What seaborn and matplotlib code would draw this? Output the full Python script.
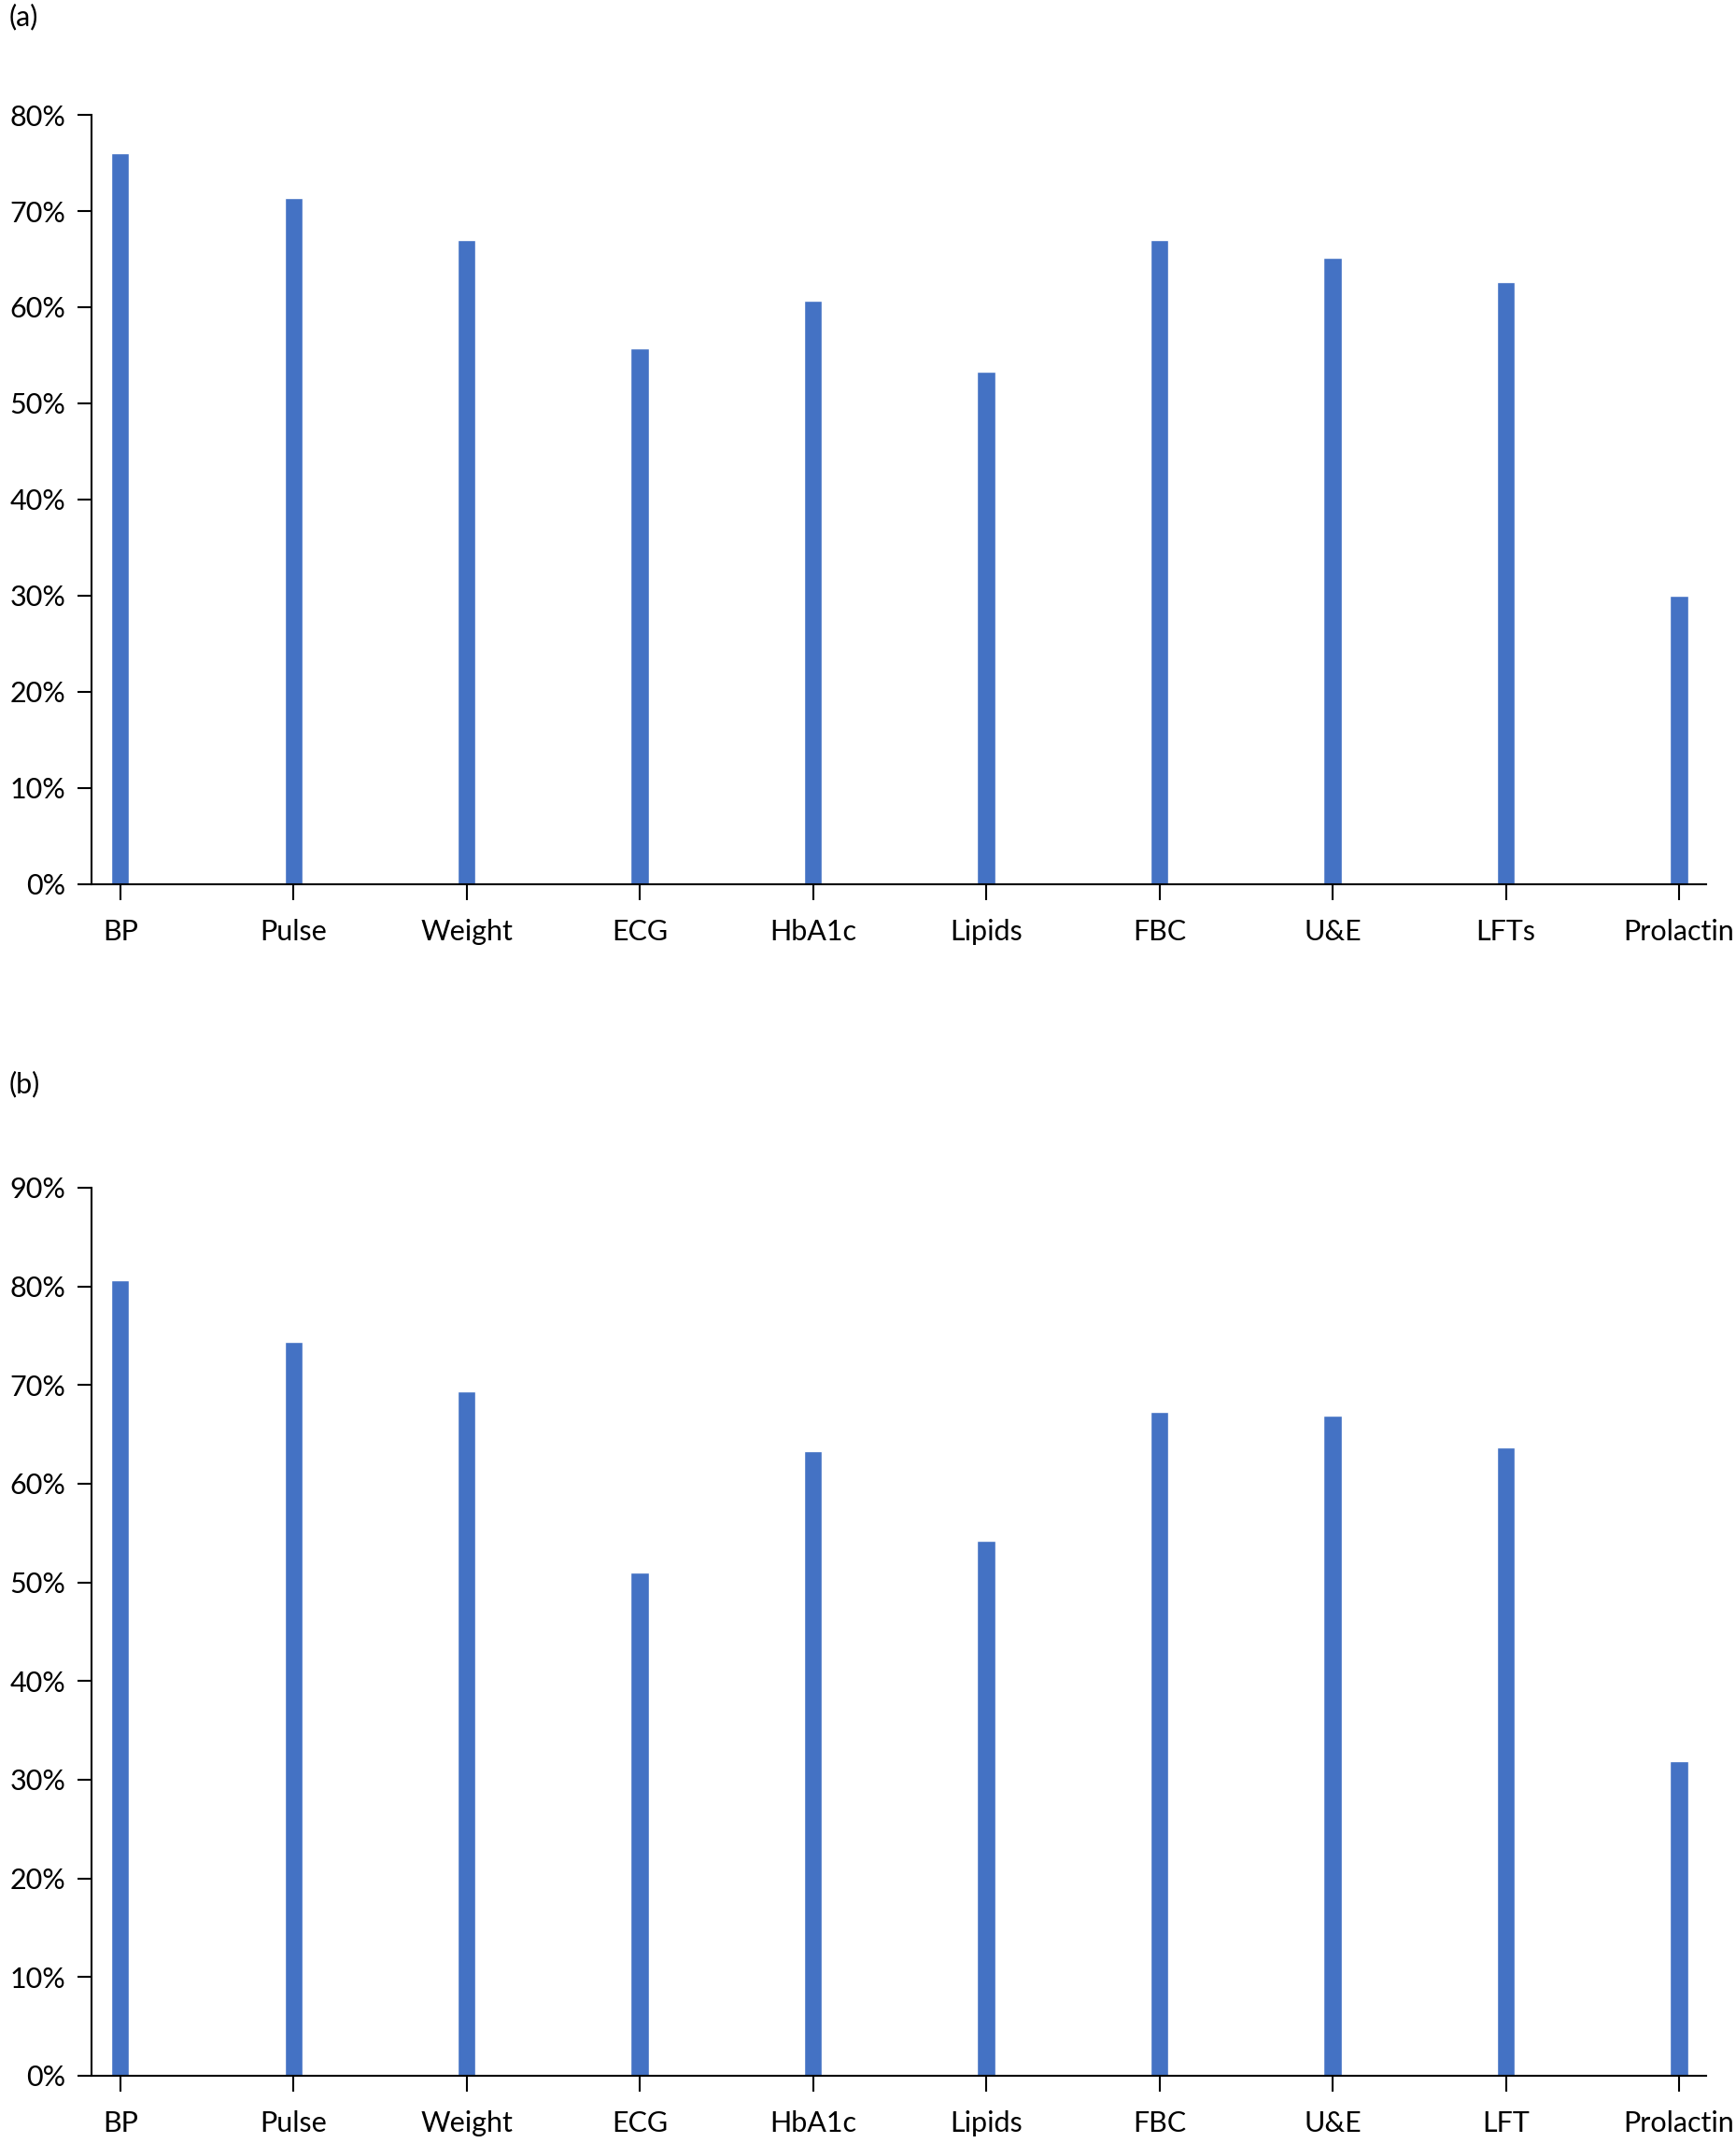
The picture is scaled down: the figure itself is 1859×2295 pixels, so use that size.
import matplotlib
matplotlib.use("Agg")
import matplotlib.pyplot as plt
from matplotlib.ticker import PercentFormatter, MultipleLocator
import pandas as pd
import seaborn as sns

sns.set_style("white")
plt.rcParams['font.family'] = ['Lato', 'DejaVu Sans']
plt.rcParams['text.color'] = 'black'
plt.rcParams['xtick.color'] = 'black'
plt.rcParams['ytick.color'] = 'black'

# data
tests_a = ['BP', 'Pulse', 'Weight', 'ECG', 'HbA1c', 'Lipids', 'FBC', 'U&E', 'LFTs', 'Prolactin']
values_a = [76.0, 71.4, 67.0, 55.7, 60.7, 53.3, 67.0, 65.1, 62.6, 30.0]
tests_b = ['BP', 'Pulse', 'Weight', 'ECG', 'HbA1c', 'Lipids', 'FBC', 'U&E', 'LFT', 'Prolactin']
values_b = [80.6, 74.4, 69.4, 51.0, 63.3, 54.2, 67.3, 66.9, 63.7, 31.9]

bar_color = '#4472C4'
fs = 22

fig = plt.figure(figsize=(18.59, 22.95), dpi=100)
ax_a = fig.add_axes([0.0527, 0.5874, 0.9303, 0.3590])
ax_b = fig.add_axes([0.0527, 0.0314, 0.9303, 0.4144])

panels = [(ax_a, tests_a, values_a, 80, '(a)'), (ax_b, tests_b, values_b, 90, '(b)')]
for ax, tests, vals, ymax, tag in panels:
    df = pd.DataFrame({'test': tests, 'pct': vals})
    sns.barplot(data=df, x='test', y='pct', color=bar_color, width=0.105,
                saturation=1, ax=ax)
    ax.set_xlim(-0.166, 9.158)
    ax.set_ylim(0, ymax)
    ax.yaxis.set_major_locator(MultipleLocator(10))
    ax.yaxis.set_major_formatter(PercentFormatter(decimals=0))
    ax.set_xlabel('')
    ax.set_ylabel('')
    for s in ['top', 'right']:
        ax.spines[s].set_visible(False)
    for s in ['left', 'bottom']:
        ax.spines[s].set_color('black')
        ax.spines[s].set_linewidth(1.5)
    ax.tick_params(axis='y', length=11, width=1.5, pad=9, labelsize=fs, left=True,
                   colors='black')
    ax.tick_params(axis='x', length=12, width=1.5, pad=15, labelsize=fs, bottom=True,
                   colors='black')

fig.text(0.0054, 0.9922, '(a)', fontsize=fs, color='black', va='center', ha='left')
fig.text(0.0054, 0.4941, '(b)', fontsize=fs, color='black', va='center', ha='left')

fig.savefig('out.png', dpi=100, facecolor='white')
